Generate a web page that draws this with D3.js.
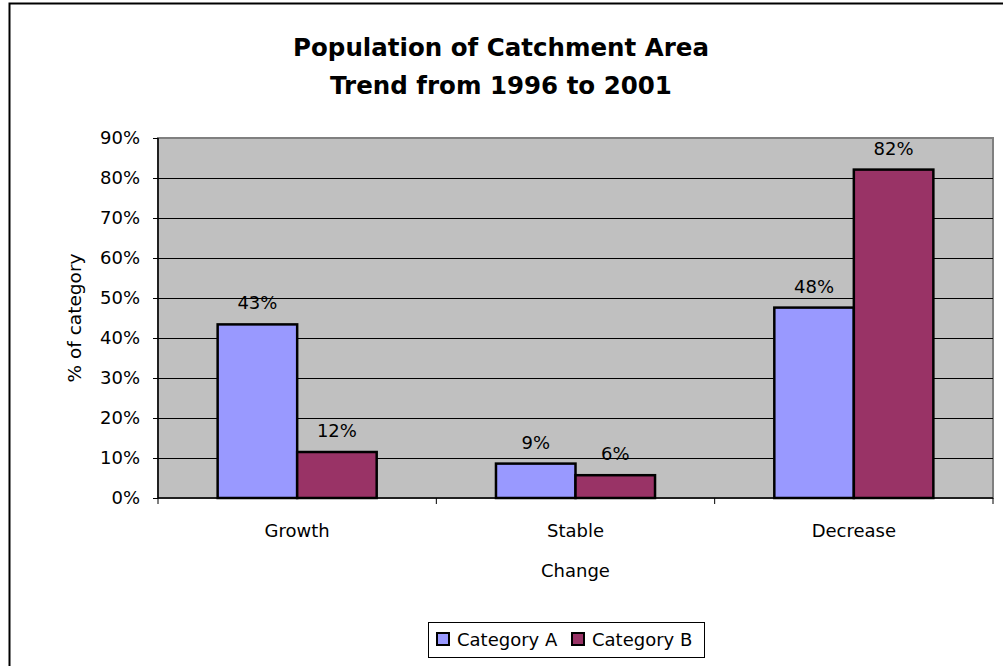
<!DOCTYPE html>
<html>
<head>
<meta charset="utf-8">
<script src="https://cdn.jsdelivr.net/npm/d3@7"></script>
<style>
  html, body { margin: 0; padding: 0; background: #fff; }
  svg { display: block; }
  text { font-family: "DejaVu Sans", Verdana, sans-serif; fill: #000; }
</style>
</head>
<body>
<svg id="chart" width="1003" height="666"></svg>
<script>
// Population trend by change type, share of each category
const changes = ["Growth", "Stable", "Decrease"];
const seriesNames = ["Category A", "Category B"];
const categoryA = [0.434, 0.086, 0.476];
const categoryB = [0.115, 0.057, 0.821];
const yTicks = [0, 0.1, 0.2, 0.3, 0.4, 0.5, 0.6, 0.7, 0.8, 0.9];
const seriesColors = ["#9999FF", "#993366"];
const titleLines = ["Population of Catchment Area", "Trend from 1996 to 2001"];

const svg = d3.select("#chart");

// outer chart frame
svg.append("rect")
  .attr("x", 9.5).attr("y", 3.5)
  .attr("width", 1010).attr("height", 680)
  .attr("fill", "#fff").attr("stroke", "#000").attr("stroke-width", 2);

const plot = { left: 158, right: 993, top: 138, bottom: 498 };

const x0 = d3.scaleBand().domain(changes).range([plot.left, plot.right]).paddingInner(0).paddingOuter(0);
const y = d3.scaleLinear().domain([0, 0.9]).range([plot.bottom, plot.top]);

// gap width 150% of a bar: band = 2 bars + 1.5 bars
const barW = x0.bandwidth() / 3.5;
const x1 = d3.scaleBand().domain(seriesNames).range([0, barW * 2]);

// plot area
svg.append("rect")
  .attr("x", plot.left).attr("y", plot.top)
  .attr("width", plot.right - plot.left).attr("height", plot.bottom - plot.top)
  .attr("fill", "#C0C0C0").attr("stroke", "#808080").attr("stroke-width", 2);

// gridlines
svg.append("g").selectAll("line")
  .data(yTicks.filter(d => d > 0 && d < 0.9))
  .join("line")
  .attr("x1", plot.left).attr("x2", plot.right)
  .attr("y1", d => Math.round(y(d)) + 0.5).attr("y2", d => Math.round(y(d)) + 0.5)
  .attr("stroke", "#000").attr("stroke-width", 1);

// y axis
const yAxis = d3.axisLeft(y).tickValues(yTicks).tickFormat(d3.format(".0%")).tickSize(5).tickPadding(13);
const gy = svg.append("g").attr("transform", `translate(${plot.left},0)`).call(yAxis);
gy.select(".domain").attr("stroke", "#000").attr("stroke-width", 1.5).attr("d", `M0,${plot.top}V${plot.bottom}`);
gy.selectAll(".tick line").attr("stroke", "#000");
gy.selectAll(".tick text").style("font-size", "18px").style("font-family", "DejaVu Sans, sans-serif").attr("fill", "#000");

// x axis with ticks at category boundaries
const gx = svg.append("g").attr("transform", `translate(0,${plot.bottom})`);
gx.append("line").attr("x1", plot.left).attr("x2", plot.right).attr("y1", 0).attr("y2", 0)
  .attr("stroke", "#000").attr("stroke-width", 1.5);
gx.selectAll("line.tk")
  .data([...changes.map(c => x0(c)), plot.right])
  .join("line").attr("class", "tk")
  .attr("x1", d => d).attr("x2", d => d).attr("y1", 0).attr("y2", 6)
  .attr("stroke", "#000");
gx.selectAll("text")
  .data(changes)
  .join("text")
  .attr("x", d => x0(d) + x0.bandwidth() / 2)
  .attr("y", 39)
  .attr("text-anchor", "middle")
  .style("font-size", "18px")
  .text(d => d);

// bars
const groups = svg.append("g").selectAll("g")
  .data(changes.map((c, i) => ({ change: c, values: [categoryA[i], categoryB[i]] })))
  .join("g")
  .attr("transform", d => `translate(${x0(d.change) + (x0.bandwidth() - barW * 2) / 2},0)`);

groups.selectAll("rect")
  .data(d => d.values.map((v, j) => ({ name: seriesNames[j], value: v, j })))
  .join("rect")
  .attr("x", d => x1(d.name))
  .attr("y", d => y(d.value))
  .attr("width", x1.bandwidth())
  .attr("height", d => y(0) - y(d.value))
  .attr("fill", d => seriesColors[d.j])
  .attr("stroke", "#000").attr("stroke-width", 2.5);

groups.selectAll("text")
  .data(d => d.values.map((v, j) => ({ name: seriesNames[j], value: v })))
  .join("text")
  .attr("x", d => x1(d.name) + x1.bandwidth() / 2)
  .attr("y", d => y(d.value) - 15)
  .attr("text-anchor", "middle")
  .style("font-size", "18px")
  .text(d => d3.format(".0%")(d.value));

// titles
svg.append("g").selectAll("text")
  .data(titleLines)
  .join("text")
  .attr("x", 501)
  .attr("y", (d, i) => 56 + i * 38)
  .attr("text-anchor", "middle")
  .style("font-size", "24.5px")
  .style("font-weight", "bold")
  .text(d => d);

// axis titles
svg.append("text")
  .attr("transform", `translate(81,${(plot.top + plot.bottom) / 2}) rotate(-90)`)
  .attr("text-anchor", "middle")
  .style("font-size", "18.5px")
  .text("% of category");

svg.append("text")
  .attr("x", (plot.left + plot.right) / 2)
  .attr("y", 577)
  .attr("text-anchor", "middle")
  .style("font-size", "18px")
  .text("Change");

// legend
const legend = svg.append("g").attr("transform", "translate(428,622)");
legend.append("rect").attr("x", 0.5).attr("y", 0.5).attr("width", 276).attr("height", 35)
  .attr("fill", "#fff").attr("stroke", "#000").attr("stroke-width", 1);
const items = legend.selectAll("g.item")
  .data(seriesNames)
  .join("g").attr("class", "item")
  .attr("transform", (d, i) => `translate(${9 + i * 135},0)`);
items.append("rect")
  .attr("x", 0).attr("y", 11).attr("width", 12).attr("height", 12)
  .attr("fill", (d, i) => seriesColors[i]).attr("stroke", "#000").attr("stroke-width", 2);
items.append("text")
  .attr("x", 20).attr("y", 24)
  .style("font-size", "18px")
  .text(d => d);
</script>
</body>
</html>
